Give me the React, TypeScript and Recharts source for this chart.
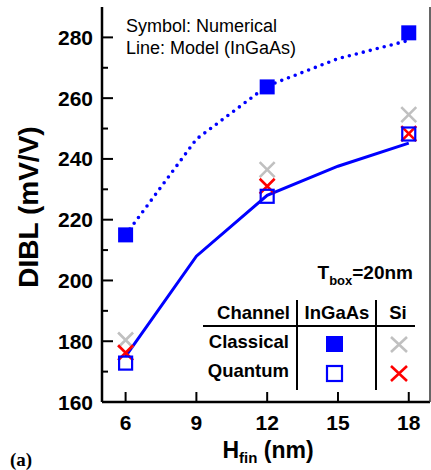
import React from 'react';
import { ComposedChart, Line, Scatter, XAxis, YAxis } from 'recharts';

// model curves (lines)
const hfin = [6, 9, 12, 15, 18];
const modelClassical = [215, 246.5, 264, 273, 279];
const modelQuantum = [175, 208, 228, 237.6, 245.2];

// numerical results (symbols)
const simHfin = [6, 12, 18];
const ingaasClassical = [215, 263.7, 281.5];
const ingaasQuantum = [172.8, 227.7, 248.2];
const siClassical = [180.4, 236.5, 254.6];
const siQuantum = [176.2, 231, 248.3];

const xTicks = [6, 9, 12, 15, 18];
const yTicks = [160, 170, 180, 190, 200, 210, 220, 230, 240, 250, 260, 270, 280];

const BLUE = '#0000ff';
const RED = '#ff0000';
const GRAY = '#c0c0c0';
const FONT = "Arial, 'Liberation Sans', Helvetica, sans-serif";

const lineData = hfin.map((h, i) => ({ h, classical: modelClassical[i], quantum: modelQuantum[i] }));
const pts = (vals: number[]) => simHfin.map((h, i) => ({ h, v: vals[i] }));

const FilledSquare = ({ cx, cy }: any) => (
  <rect x={cx - 7.5} y={cy - 7.5} width={15} height={15} fill={BLUE} />
);
const OpenSquare = ({ cx, cy }: any) => (
  <rect x={cx - 6.5} y={cy - 6.5} width={13} height={13} fill="none" stroke={BLUE} strokeWidth={2.2} />
);
const cross = (color: string) => ({ cx, cy }: any) => (
  <path
    d={`M${cx - 7.5},${cy - 7.5}L${cx + 7.5},${cy + 7.5}M${cx + 7.5},${cy - 7.5}L${cx - 7.5},${cy + 7.5}`}
    stroke={color}
    strokeWidth={2.6}
    fill="none"
  />
);

const LeftTick = ({ x, y, payload }: any) => {
  const major = payload.value % 20 === 0;
  return (
    <g>
      <line x1={x} x2={x + (major ? 11 : 6)} y1={y} y2={y} stroke="#000" strokeWidth={2} />
      {major && (
        <text x={x - 9} y={y + 7.5} textAnchor="end" fontSize={21} fontWeight="bold" fontFamily={FONT} fill="#000">
          {payload.value}
        </text>
      )}
    </g>
  );
};

const BottomTick = ({ x, y, payload }: any) => (
  <g>
    <line x1={x} x2={x} y1={y} y2={y - 10} stroke="#000" strokeWidth={2} />
    <text x={x} y={y + 28} textAnchor="middle" fontSize={21} fontWeight="bold" fontFamily={FONT} fill="#000">
      {payload.value}
    </text>
  </g>
);

const TopTick = ({ x, y }: any) => (
  <line x1={x} x2={x} y1={y} y2={y + 4} stroke="#000" strokeWidth={1.5} />
);

const Overlay = () => (
  <svg width={431} height={470} style={{ position: 'absolute', left: 0, top: 0, pointerEvents: 'none' }}>
    <g fontFamily={FONT} fill="#000">
      <text x={126} y={32} fontSize={18}>Symbol: Numerical</text>
      <text x={126} y={54} fontSize={18}>Line: Model (InGaAs)</text>

      <text x={413} y={279} textAnchor="end" fontSize={19} fontWeight="bold">
        T<tspan fontSize={13} dy={6}>box</tspan><tspan dy={-6}>=20nm</tspan>
      </text>

      <g fontSize={18.5} fontWeight="bold">
        <text x={290} y={319} textAnchor="end">Channel</text>
        <text x={337} y={319} textAnchor="middle">InGaAs</text>
        <text x={398} y={319} textAnchor="middle">Si</text>
        <text x={289} y={348} textAnchor="end">Classical</text>
        <text x={289} y={377} textAnchor="end">Quantum</text>
      </g>
      <line x1={203} x2={415} y1={326} y2={326} stroke="#000" strokeWidth={2} />
      <line x1={297} x2={297} y1={300} y2={390} stroke="#000" strokeWidth={2} />
      <line x1={376} x2={376} y1={300} y2={390} stroke="#000" strokeWidth={2} />
      <rect x={326} y={336} width={17} height={16} fill={BLUE} />
      <rect x={327} y={366} width={15} height={15} fill="none" stroke={BLUE} strokeWidth={2.2} />
      <path d="M391,337L407,352M407,337L391,352" stroke={GRAY} strokeWidth={2.6} />
      <path d="M391,366L407,381M407,366L391,381" stroke={RED} strokeWidth={2.6} />

      <text transform="translate(38,207) rotate(-90)" textAnchor="middle" fontSize={28} fontWeight="bold">
        DIBL (mV/V)
      </text>
      <text x={268} y={458} textAnchor="middle" fontSize={23} fontWeight="bold">
        H<tspan fontSize={15} dy={5}>fin</tspan><tspan dy={-5}> (nm)</tspan>
      </text>
      <text x={10} y={466} fontSize={19} fontWeight="bold" fontFamily="'Liberation Serif', 'Times New Roman', serif">
        (a)
      </text>
    </g>
  </svg>
);

export default function App() {
  return (
    <div style={{ position: 'absolute', left: 0, top: 0, width: 431, height: 470, background: '#fff' }}>
      <ComposedChart width={431} height={470} data={lineData} margin={{ top: 7, right: 0, bottom: 0, left: 0 }}>
        <XAxis
          type="number"
          dataKey="h"
          domain={[5, 18.9]}
          allowDataOverflow
          ticks={xTicks}
          interval={0}
          tickSize={0}
          tickMargin={0}
          tickLine={false}
          axisLine={{ stroke: '#000', strokeWidth: 2.5 }}
          height={68}
          tick={BottomTick}
        />
        <XAxis
          xAxisId="top"
          orientation="top"
          type="number"
          dataKey="h"
          domain={[5, 18.9]}
          allowDataOverflow
          ticks={xTicks}
          interval={0}
          tickSize={0}
          tickMargin={0}
          tickLine={false}
          axisLine={{ stroke: '#000', strokeWidth: 1.5 }}
          height={0}
          tick={TopTick}
        />
        <YAxis
          type="number"
          domain={[160, 290]}
          allowDataOverflow
          ticks={yTicks}
          interval={0}
          tickSize={0}
          tickMargin={0}
          tickLine={false}
          axisLine={{ stroke: '#000', strokeWidth: 2.5 }}
          width={102}
          tick={LeftTick}
        />
        <YAxis
          yAxisId="right"
          orientation="right"
          type="number"
          domain={[160, 290]}
          tick={false}
          tickLine={false}
          axisLine={{ stroke: '#333', strokeWidth: 1.5 }}
          width={1}
        />
        <Line
          dataKey="classical"
          stroke={BLUE}
          strokeWidth={3.6}
          strokeDasharray="0 7.2"
          strokeLinecap="round"
          dot={false}
          isAnimationActive={false}
        />
        <Line dataKey="quantum" stroke={BLUE} strokeWidth={3} dot={false} isAnimationActive={false} />
        <Scatter data={pts(siClassical)} dataKey="v" shape={cross(GRAY)} isAnimationActive={false} />
        <Scatter data={pts(siQuantum)} dataKey="v" shape={cross(RED)} isAnimationActive={false} />
        <Scatter data={pts(ingaasQuantum)} dataKey="v" shape={OpenSquare} isAnimationActive={false} />
        <Scatter data={pts(ingaasClassical)} dataKey="v" shape={FilledSquare} isAnimationActive={false} />
      </ComposedChart>
      <Overlay />
    </div>
  );
}
